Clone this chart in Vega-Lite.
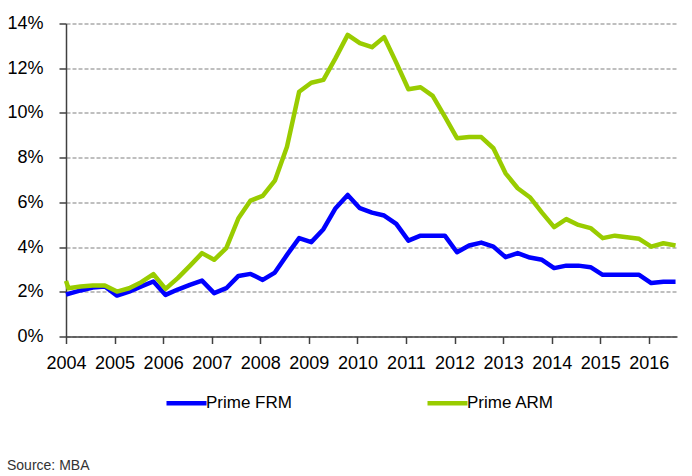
{
  "$schema": "https://vega.github.io/schema/vega-lite/v6.json",
  "width": 611,
  "height": 313,
  "autosize": {"type": "none"},
  "padding": {"left": 66, "top": 23.5, "right": 15, "bottom": 139.5},
  "background": "white",
  "config": {
    "view": {"stroke": null},
    "font": "Liberation Sans"
  },
  "title": {
    "text": "Source: MBA",
    "orient": "bottom",
    "anchor": "start",
    "frame": "group",
    "fontSize": 14,
    "fontWeight": "normal",
    "color": "#333333",
    "dx": -59,
    "offset": 46
  },
  "data": {
    "values": [
      {"t": 2004.0, "s": "Prime FRM", "v": 1.88},
      {"t": 2004.05, "s": "Prime FRM", "v": 1.91},
      {"t": 2004.3, "s": "Prime FRM", "v": 2.06},
      {"t": 2004.55, "s": "Prime FRM", "v": 2.19},
      {"t": 2004.8, "s": "Prime FRM", "v": 2.24},
      {"t": 2005.05, "s": "Prime FRM", "v": 1.83},
      {"t": 2005.3, "s": "Prime FRM", "v": 2.01},
      {"t": 2005.55, "s": "Prime FRM", "v": 2.24},
      {"t": 2005.8, "s": "Prime FRM", "v": 2.46},
      {"t": 2006.05, "s": "Prime FRM", "v": 1.86},
      {"t": 2006.3, "s": "Prime FRM", "v": 2.1},
      {"t": 2006.55, "s": "Prime FRM", "v": 2.31},
      {"t": 2006.8, "s": "Prime FRM", "v": 2.5},
      {"t": 2007.05, "s": "Prime FRM", "v": 1.94},
      {"t": 2007.3, "s": "Prime FRM", "v": 2.16},
      {"t": 2007.55, "s": "Prime FRM", "v": 2.71},
      {"t": 2007.8, "s": "Prime FRM", "v": 2.8},
      {"t": 2008.05, "s": "Prime FRM", "v": 2.53},
      {"t": 2008.3, "s": "Prime FRM", "v": 2.86},
      {"t": 2008.55, "s": "Prime FRM", "v": 3.65},
      {"t": 2008.8, "s": "Prime FRM", "v": 4.4},
      {"t": 2009.05, "s": "Prime FRM", "v": 4.22},
      {"t": 2009.3, "s": "Prime FRM", "v": 4.8},
      {"t": 2009.55, "s": "Prime FRM", "v": 5.74},
      {"t": 2009.8, "s": "Prime FRM", "v": 6.33},
      {"t": 2010.05, "s": "Prime FRM", "v": 5.74},
      {"t": 2010.3, "s": "Prime FRM", "v": 5.54},
      {"t": 2010.55, "s": "Prime FRM", "v": 5.41},
      {"t": 2010.8, "s": "Prime FRM", "v": 5.04},
      {"t": 2011.05, "s": "Prime FRM", "v": 4.29},
      {"t": 2011.3, "s": "Prime FRM", "v": 4.51},
      {"t": 2011.55, "s": "Prime FRM", "v": 4.51},
      {"t": 2011.8, "s": "Prime FRM", "v": 4.51},
      {"t": 2012.05, "s": "Prime FRM", "v": 3.77},
      {"t": 2012.3, "s": "Prime FRM", "v": 4.07},
      {"t": 2012.55, "s": "Prime FRM", "v": 4.2},
      {"t": 2012.8, "s": "Prime FRM", "v": 4.02},
      {"t": 2013.05, "s": "Prime FRM", "v": 3.55},
      {"t": 2013.3, "s": "Prime FRM", "v": 3.73},
      {"t": 2013.55, "s": "Prime FRM", "v": 3.53},
      {"t": 2013.8, "s": "Prime FRM", "v": 3.43},
      {"t": 2014.05, "s": "Prime FRM", "v": 3.06},
      {"t": 2014.3, "s": "Prime FRM", "v": 3.17},
      {"t": 2014.55, "s": "Prime FRM", "v": 3.17},
      {"t": 2014.8, "s": "Prime FRM", "v": 3.1},
      {"t": 2015.05, "s": "Prime FRM", "v": 2.76},
      {"t": 2015.3, "s": "Prime FRM", "v": 2.76},
      {"t": 2015.55, "s": "Prime FRM", "v": 2.76},
      {"t": 2015.8, "s": "Prime FRM", "v": 2.76},
      {"t": 2016.05, "s": "Prime FRM", "v": 2.39},
      {"t": 2016.3, "s": "Prime FRM", "v": 2.45},
      {"t": 2016.55, "s": "Prime FRM", "v": 2.45},
      {"t": 2004.0, "s": "Prime ARM", "v": 2.49},
      {"t": 2004.05, "s": "Prime ARM", "v": 2.16},
      {"t": 2004.3, "s": "Prime ARM", "v": 2.24},
      {"t": 2004.55, "s": "Prime ARM", "v": 2.28},
      {"t": 2004.8, "s": "Prime ARM", "v": 2.28},
      {"t": 2005.05, "s": "Prime ARM", "v": 2.01},
      {"t": 2005.3, "s": "Prime ARM", "v": 2.16},
      {"t": 2005.55, "s": "Prime ARM", "v": 2.43},
      {"t": 2005.8, "s": "Prime ARM", "v": 2.79},
      {"t": 2006.05, "s": "Prime ARM", "v": 2.13},
      {"t": 2006.3, "s": "Prime ARM", "v": 2.61},
      {"t": 2006.55, "s": "Prime ARM", "v": 3.16},
      {"t": 2006.8, "s": "Prime ARM", "v": 3.73},
      {"t": 2007.05, "s": "Prime ARM", "v": 3.43},
      {"t": 2007.3, "s": "Prime ARM", "v": 3.95},
      {"t": 2007.55, "s": "Prime ARM", "v": 5.29},
      {"t": 2007.8, "s": "Prime ARM", "v": 6.08},
      {"t": 2008.05, "s": "Prime ARM", "v": 6.29},
      {"t": 2008.3, "s": "Prime ARM", "v": 6.97},
      {"t": 2008.55, "s": "Prime ARM", "v": 8.49},
      {"t": 2008.8, "s": "Prime ARM", "v": 10.95},
      {"t": 2009.05, "s": "Prime ARM", "v": 11.35},
      {"t": 2009.3, "s": "Prime ARM", "v": 11.48},
      {"t": 2009.55, "s": "Prime ARM", "v": 12.45},
      {"t": 2009.8, "s": "Prime ARM", "v": 13.49},
      {"t": 2010.05, "s": "Prime ARM", "v": 13.12},
      {"t": 2010.3, "s": "Prime ARM", "v": 12.94},
      {"t": 2010.55, "s": "Prime ARM", "v": 13.39},
      {"t": 2010.8, "s": "Prime ARM", "v": 12.25},
      {"t": 2011.05, "s": "Prime ARM", "v": 11.06},
      {"t": 2011.3, "s": "Prime ARM", "v": 11.15},
      {"t": 2011.55, "s": "Prime ARM", "v": 10.76},
      {"t": 2011.8, "s": "Prime ARM", "v": 9.83},
      {"t": 2012.05, "s": "Prime ARM", "v": 8.87},
      {"t": 2012.3, "s": "Prime ARM", "v": 8.92},
      {"t": 2012.55, "s": "Prime ARM", "v": 8.92},
      {"t": 2012.8, "s": "Prime ARM", "v": 8.42},
      {"t": 2013.05, "s": "Prime ARM", "v": 7.3},
      {"t": 2013.3, "s": "Prime ARM", "v": 6.63},
      {"t": 2013.55, "s": "Prime ARM", "v": 6.23},
      {"t": 2013.8, "s": "Prime ARM", "v": 5.54},
      {"t": 2014.05, "s": "Prime ARM", "v": 4.89},
      {"t": 2014.3, "s": "Prime ARM", "v": 5.25},
      {"t": 2014.55, "s": "Prime ARM", "v": 4.99},
      {"t": 2014.8, "s": "Prime ARM", "v": 4.85},
      {"t": 2015.05, "s": "Prime ARM", "v": 4.4},
      {"t": 2015.3, "s": "Prime ARM", "v": 4.51},
      {"t": 2015.55, "s": "Prime ARM", "v": 4.44},
      {"t": 2015.8, "s": "Prime ARM", "v": 4.37},
      {"t": 2016.05, "s": "Prime ARM", "v": 4.02},
      {"t": 2016.3, "s": "Prime ARM", "v": 4.17},
      {"t": 2016.55, "s": "Prime ARM", "v": 4.07}
    ]
  },
  "mark": {"type": "line", "strokeWidth": 4.5, "strokeJoin": "round", "strokeCap": "butt"},
  "encoding": {
    "x": {
      "field": "t",
      "type": "quantitative",
      "scale": {"domain": [2004, 2016.58], "nice": false, "zero": false},
      "axis": {
        "title": null,
        "values": [2004, 2005, 2006, 2007, 2008, 2009, 2010, 2011, 2012, 2013, 2014, 2015, 2016],
        "format": "d",
        "grid": false,
        "domainColor": "#404040",
        "domainWidth": 1.5,
        "tickColor": "#404040",
        "tickWidth": 1.5,
        "tickSize": 7,
        "labelFont": "Liberation Sans",
        "labelFontSize": 18,
        "labelColor": "#000000",
        "labelPadding": 11,
        "labelFlush": false,
        "labelOverlap": false
      }
    },
    "y": {
      "field": "v",
      "type": "quantitative",
      "scale": {"domain": [0, 14], "nice": false},
      "axis": {
        "title": null,
        "values": [0, 2, 4, 6, 8, 10, 12, 14],
        "labelExpr": "datum.value + '%'",
        "grid": true,
        "gridColor": "#808080",
        "gridDash": [4, 2],
        "gridWidth": 1.2,
        "domainColor": "#404040",
        "domainWidth": 1.5,
        "tickColor": "#404040",
        "tickWidth": 1.5,
        "tickSize": 7,
        "labelFont": "Liberation Sans",
        "labelFontSize": 18,
        "labelColor": "#000000",
        "labelPadding": 16,
        "labelOverlap": false
      }
    },
    "color": {
      "field": "s",
      "type": "nominal",
      "scale": {"domain": ["Prime FRM", "Prime ARM"], "range": ["#0000FF", "#99CC00"]},
      "legend": {
        "title": null,
        "orient": "none",
        "direction": "horizontal",
        "legendX": 98,
        "legendY": 357,
        "symbolType": "stroke",
        "symbolSize": 1600,
        "symbolStrokeWidth": 4.5,
        "labelFont": "Liberation Sans",
        "labelFontSize": 17,
        "labelColor": "#000000",
        "labelOffset": -3,
        "columnPadding": 126
      }
    }
  }
}
